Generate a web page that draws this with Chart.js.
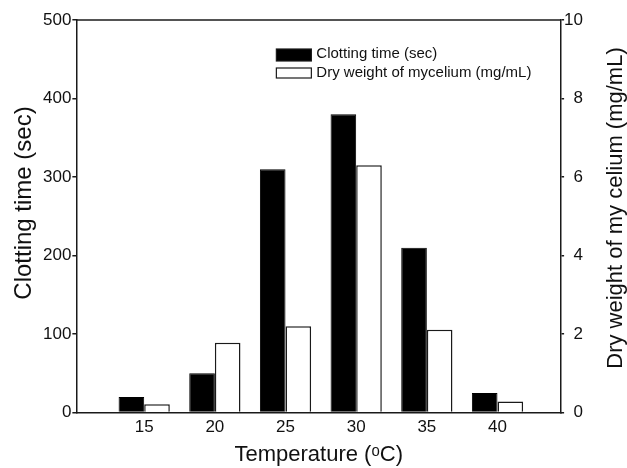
<!DOCTYPE html>
<html>
<head>
<meta charset="utf-8">
<script src="https://cdn.jsdelivr.net/npm/chart.js@4/dist/chart.umd.min.js"></script>
<style>
  html, body { margin: 0; padding: 0; background: #fff; }
  #wrap { width: 627px; height: 468px; }
</style>
</head>
<body>
<div id="wrap"><canvas id="myChart"></canvas></div>
<script>
// data
const temps = [15, 20, 25, 30, 35, 40];
const clottingTime = [20, 50, 310, 380, 210, 25];        // sec, left axis
const dryWeight = [0.21, 1.78, 2.2, 6.3, 2.11, 0.28];     // mg/mL, right axis
const leftTicks = [0, 100, 200, 300, 400, 500];
const rightTicks = [0, 2, 4, 6, 8, 10];

const xTitle = 'Temperature (\u1D52C)';
const yTitle = 'Clotting time (sec)';
const y1Title = 'Dry weight of my celium (mg/mL)';

(function(){
  const fam = 'Arial, "Liberation Sans", Helvetica, sans-serif';
  Chart.defaults.font.family = fam;
  Chart.defaults.color = '#111';

  const ink = '#1a1a1a';

  // top frame line, axis titles, in-plot legend
  const framePlugin = {
    id: 'frame',
    afterDraw(chart) {
      const { ctx, chartArea: a } = chart;
      ctx.save();
      ctx.strokeStyle = ink;
      ctx.lineWidth = 1.5;
      ctx.beginPath();
      ctx.moveTo(a.left, a.top);
      ctx.lineTo(a.right, a.top);
      ctx.stroke();

      // axis titles
      ctx.fillStyle = '#111';
      ctx.textAlign = 'center';
      ctx.textBaseline = 'middle';
      ctx.font = '22px ' + fam;
      ctx.fillText(xTitle, (a.left + a.right) / 2, 455);

      ctx.save();
      ctx.translate(24, 203);
      ctx.rotate(-Math.PI / 2);
      ctx.font = '24px ' + fam;
      ctx.fillText(yTitle, 0, 0);
      ctx.restore();

      ctx.save();
      ctx.translate(616, 208);
      ctx.rotate(-Math.PI / 2);
      ctx.font = '22px ' + fam;
      ctx.fillText(y1Title, 0, 0);
      ctx.restore();

      // legend
      const x0 = a.left + 200, y0 = a.top + 29;
      ctx.textAlign = 'left';
      ctx.font = '15px ' + fam;
      chart.data.datasets.forEach((ds, i) => {
        const y = y0 + i * 19;
        const h = i === 0 ? 12 : 10;
        ctx.fillStyle = ds.backgroundColor;
        ctx.fillRect(x0, y, 35, h);
        ctx.lineWidth = 1.2;
        ctx.strokeStyle = ink;
        ctx.strokeRect(x0, y, 35, h);
        ctx.fillStyle = '#111';
        ctx.fillText(ds.label, x0 + 40, y + 5);
      });
      ctx.restore();
    }
  };

  const ctx = document.getElementById('myChart').getContext('2d');
  new Chart(ctx, {
    type: 'bar',
    data: {
      datasets: [{
        label: 'Clotting time (sec)',
        data: temps.map((t, i) => ({ x: t, y: clottingTime[i] })),
        backgroundColor: '#000',
        borderColor: '#000',
        borderWidth: 1,
        yAxisID: 'y'
      }, {
        label: 'Dry weight of mycelium (mg/mL)',
        data: temps.map((t, i) => ({ x: t, y: dryWeight[i] })),
        backgroundColor: '#fff',
        borderColor: ink,
        borderWidth: 1.5,
        yAxisID: 'y1'
      }]
    },
    options: {
      responsive: true,
      maintainAspectRatio: false,
      animation: false,
      categoryPercentage: 0.725,
      barPercentage: 1.0,
      layout: { padding: { left: 42, right: 44, top: 20, bottom: 25 } },
      plugins: {
        legend: { display: false },
        tooltip: { enabled: false }
      },
      scales: {
        x: {
          type: 'linear',
          offset: false,
          min: 10.2,
          max: 44.5,
          afterBuildTicks: axis => { axis.ticks = temps.map(v => ({ value: v })); },
          grid: { display: false, drawTicks: false, offset: false },
          border: { display: true, color: ink, width: 1.5 },
          ticks: { font: { size: 17 }, color: '#111', padding: 5 }
        },
        y: {
          position: 'left',
          min: 0,
          max: 500,
          afterBuildTicks: axis => { axis.ticks = leftTicks.map(v => ({ value: v })); },
          grid: { drawOnChartArea: false, color: ink, tickLength: 4, lineWidth: 1.5 },
          border: { display: true, color: ink, width: 1.5 },
          ticks: { font: { size: 17 }, color: '#111', padding: 1 }
        },
        y1: {
          position: 'right',
          min: 0,
          max: 10,
          afterBuildTicks: axis => { axis.ticks = rightTicks.map(v => ({ value: v })); },
          grid: { drawOnChartArea: false, color: ink, tickLength: 3, lineWidth: 1.5 },
          border: { display: true, color: ink, width: 1.5 },
          ticks: { font: { size: 17 }, color: '#111', padding: 0, crossAlign: 'far' }
        }
      }
    },
    plugins: [framePlugin]
  });
})();
</script>
</body>
</html>
